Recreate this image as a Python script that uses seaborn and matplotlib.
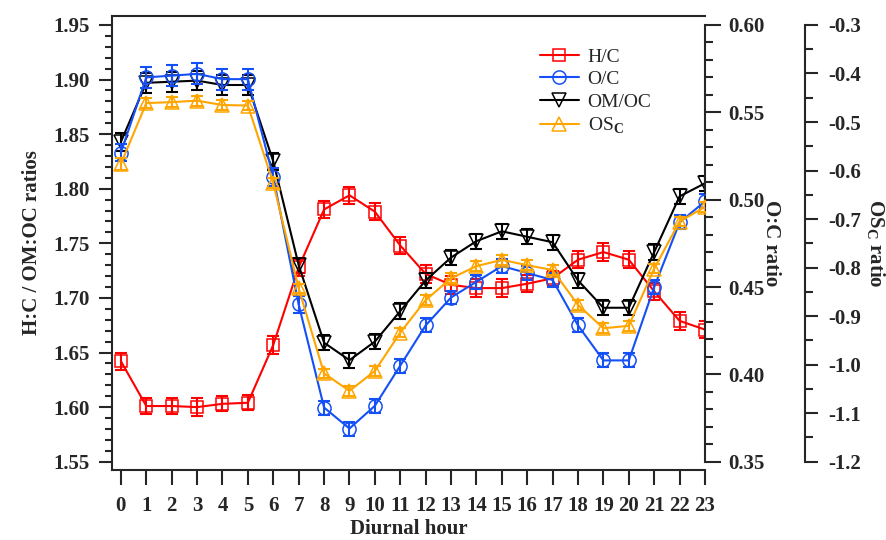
import numpy as np
import pandas as pd
import matplotlib
matplotlib.use('Agg')
import matplotlib.pyplot as plt
import seaborn as sns
from matplotlib.ticker import MultipleLocator, FormatStrFormatter

# diurnal profiles
hours = list(range(24))
hc = [1.642, 1.601, 1.601, 1.600, 1.603, 1.604, 1.657, 1.728, 1.781, 1.794, 1.779, 1.748,
      1.722, 1.712, 1.709, 1.709, 1.713, 1.718, 1.735, 1.742, 1.735, 1.706, 1.679, 1.671]
oc = [0.527, 0.570, 0.571, 0.572, 0.569, 0.569, 0.513, 0.440, 0.381, 0.369, 0.382, 0.405,
      0.428, 0.444, 0.453, 0.462, 0.458, 0.454, 0.428, 0.408, 0.408, 0.450, 0.487, 0.499]
omoc = [1.843, 1.897, 1.898, 1.899, 1.895, 1.895, 1.825, 1.730, 1.659, 1.643, 1.660, 1.688,
        1.716, 1.737, 1.752, 1.761, 1.756, 1.751, 1.716, 1.691, 1.691, 1.742, 1.793, 1.805]
osc = [-0.586, -0.461, -0.459, -0.456, -0.465, -0.466, -0.626, -0.843, -1.018, -1.054, -1.013, -0.934,
       -0.867, -0.822, -0.797, -0.784, -0.795, -0.805, -0.877, -0.925, -0.920, -0.802, -0.705, -0.675]

hc_err = [0.008, 0.007, 0.007, 0.008, 0.007, 0.007, 0.008, 0.008, 0.008, 0.008, 0.008, 0.008,
          0.008, 0.008, 0.008, 0.008, 0.008, 0.007, 0.008, 0.008, 0.008, 0.008, 0.008, 0.008]
oc_err = [0.005, 0.006, 0.006, 0.006, 0.006, 0.006, 0.005, 0.005, 0.004, 0.004, 0.004, 0.004,
          0.004, 0.004, 0.004, 0.004, 0.004, 0.004, 0.004, 0.004, 0.004, 0.004, 0.004, 0.004]
omoc_err = [0.008, 0.009, 0.009, 0.009, 0.009, 0.009, 0.008, 0.007, 0.007, 0.007, 0.007, 0.007,
            0.007, 0.007, 0.007, 0.007, 0.007, 0.007, 0.007, 0.007, 0.007, 0.007, 0.007, 0.007]
osc_err = [0.012, 0.010, 0.010, 0.010, 0.010, 0.010, 0.010, 0.010, 0.010, 0.010, 0.010, 0.010,
           0.010, 0.010, 0.010, 0.010, 0.010, 0.010, 0.010, 0.010, 0.010, 0.010, 0.010, 0.010]

df = pd.DataFrame({'hour': hours, 'H/C': hc, 'O/C': oc, 'OM/OC': omoc, 'OSc': osc})

sns.set_style('ticks')
plt.rcParams['font.family'] = 'serif'
plt.rcParams['font.serif'] = ['Liberation Serif', 'DejaVu Serif']
plt.rcParams['font.weight'] = 'bold'
plt.rcParams['axes.labelweight'] = 'bold'
plt.rcParams['mathtext.fontset'] = 'custom'
plt.rcParams['mathtext.rm'] = 'Liberation Serif'
plt.rcParams['mathtext.bf'] = 'Liberation Serif:bold'
plt.rcParams['axes.linewidth'] = 1.5

red, blue, black, orange = '#ff0000', '#1450f5', '#000000', '#ffa500'

fig, ax = plt.subplots(figsize=(8.87, 5.4), dpi=100)
fig.subplots_adjust(left=0.1263, right=0.7948, top=0.9704, bottom=0.1296)
ax2 = ax.twinx()
ax3 = ax.twinx()


def draw(axis, col, err, color, marker, ms, label):
    axis.errorbar(df['hour'], df[col], yerr=err, fmt='none', ecolor=color,
                  elinewidth=1.5, capsize=4.5, capthick=1.5, zorder=2)
    sns.lineplot(data=df, x='hour', y=col, ax=axis, color=color, marker=marker,
                 markersize=ms, markeredgecolor=color, markerfacecolor='none',
                 markeredgewidth=1.1, linewidth=1.5, label=label, legend=False, zorder=3)


draw(ax, 'H/C', hc_err, red, 's', 9, 'H/C')
draw(ax, 'OM/OC', omoc_err, black, 'v', 10, 'OM/OC')
draw(ax2, 'O/C', oc_err, blue, 'o', 9.5, 'O/C')
draw(ax3, 'OSc', osc_err, orange, '^', 10, 'OS$_\\mathrm{C}$')

ax.set_xlim(-0.35, 23)
ax.set_ylim(1.5424, 1.9582)
ax2.set_ylim(0.34525, 0.60515)
ax3.set_ylim(-1.2171, -0.2815)

# main axis: left scale + hours
ax.spines['right'].set_visible(False)
ax.set_xticks(hours)
ax.tick_params(axis='x', direction='out', length=11, width=1.5, pad=8, labelsize=15, top=False)
ax.yaxis.set_major_locator(MultipleLocator(0.05))
ax.yaxis.set_minor_locator(MultipleLocator(0.01))
ax.yaxis.set_major_formatter(FormatStrFormatter('%.2f'))
ax.tick_params(axis='y', which='major', direction='out', length=9.5, width=1.5, pad=6.5, labelsize=15, right=False)
ax.tick_params(axis='y', which='minor', direction='out', length=5, width=1.5, right=False)
ax.set_xlabel('Diurnal hour', fontsize=15, labelpad=2)
ax.set_ylabel('H:C / OM:OC ratios', fontsize=15, labelpad=8)

# O:C scale
for s in ['left', 'top', 'bottom']:
    ax2.spines[s].set_visible(False)
ax2.spines['right'].set_bounds(0.35, 0.60)
ax2.yaxis.set_major_locator(MultipleLocator(0.05))
ax2.yaxis.set_minor_locator(MultipleLocator(0.01))
ax2.yaxis.set_major_formatter(FormatStrFormatter('%.2f'))
ax2.tick_params(axis='y', which='major', direction='out', length=11.5, width=1.5, pad=5.5, labelsize=15)
ax2.tick_params(axis='y', which='minor', direction='out', length=5.5, width=1.5)
ax2.set_xlabel('')
ax2.set_ylabel('O:C ratio', fontsize=15, rotation=270, va='bottom', labelpad=-3)

# OSc scale
for s in ['left', 'top', 'bottom']:
    ax3.spines[s].set_visible(False)
ax3.spines['right'].set_position(('axes', 1.1686))
ax3.spines['right'].set_bounds(-1.2, -0.3)
ax3.yaxis.set_major_locator(MultipleLocator(0.1))
ax3.yaxis.set_minor_locator(MultipleLocator(0.05))
ax3.yaxis.set_major_formatter(FormatStrFormatter('%.1f'))
ax3.tick_params(axis='y', which='major', direction='out', length=9.5, width=1.5, pad=7, labelsize=15)
ax3.tick_params(axis='y', which='minor', direction='out', length=5.5, width=1.5)
ax3.set_xlabel('')
ax3.set_ylabel('OS$_\\mathbf{C}$ ratio', fontsize=15, rotation=270, va='bottom', labelpad=2)

hd = {}
for a in (ax, ax2, ax3):
    h, l = a.get_legend_handles_labels()
    hd.update(dict(zip(l, h)))
order = ['H/C', 'O/C', 'OM/OC', 'OS$_\\mathrm{C}$']
fig.legend([hd[k] for k in order], order, loc='upper left', bbox_to_anchor=(0.6088, 0.911),
           frameon=False, prop={'size': 14, 'weight': 'normal'}, handlelength=2.0,
           handletextpad=0.45, labelspacing=0.25, borderpad=0, borderaxespad=0)

fig.savefig('out.png', dpi=100)
